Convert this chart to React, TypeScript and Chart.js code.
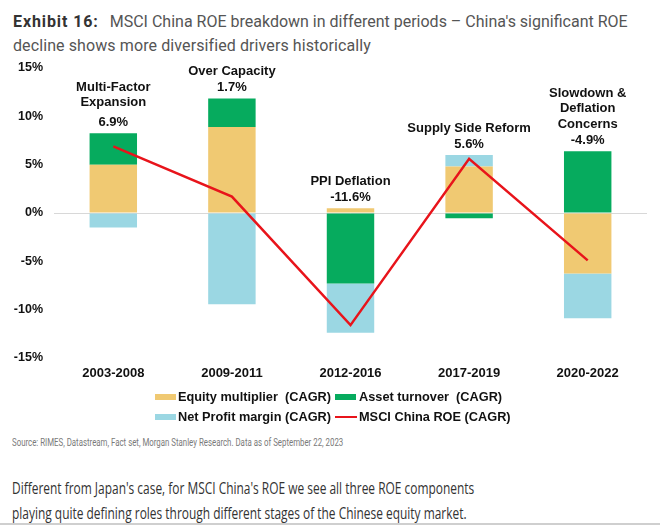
import React, { useEffect, useRef } from "react";
import { Chart, registerables } from "chart.js";

Chart.register(...registerables);

const categories = ["2003-2008", "2009-2011", "2012-2016", "2017-2019", "2020-2022"];
const equityMultiplier = [5.0, 8.9, 0.5, 4.8, -6.25];
const assetTurnover = [3.25, 2.95, -7.3, -0.55, 6.4];
const netProfitMargin = [-1.5, -9.45, -5.1, 1.2, -4.65];
const roe = [6.9, 1.7, -11.6, 5.6, -4.9];
const periodNames = [
  ["Multi-Factor", "Expansion"],
  ["Over Capacity"],
  ["PPI Deflation"],
  ["Supply Side Reform"],
  ["Slowdown &", "Deflation", "Concerns"],
];
const roeLabels = ["6.9%", "1.7%", "-11.6%", "5.6%", "-4.9%"];
const yTicks = [-15, -10, -5, 0, 5, 10, 15];

const COLORS = {
  equity: "#F0C972",
  asset: "#06AB5E",
  npm: "#9BD7E3",
  roe: "#E8141B",
};

const FONT = "'Liberation Sans', Arial, Helvetica, sans-serif";

const legendItems = [
  { label: "Equity multiplier  (CAGR)", color: COLORS.equity, kind: "bar", col: 0, row: 0 },
  { label: "Asset turnover  (CAGR)", color: COLORS.asset, kind: "bar", col: 1, row: 0 },
  { label: "Net Profit margin (CAGR)", color: COLORS.npm, kind: "bar", col: 0, row: 1 },
  { label: "MSCI China ROE (CAGR)", color: COLORS.roe, kind: "line", col: 1, row: 1 },
];

const annotationPlugin = {
  id: "periodAnnotations",
  afterDatasetsDraw(chart: any) {
    const { ctx } = chart;
    const x = chart.scales.x;
    const y = chart.scales.y;
    ctx.save();
    ctx.font = `bold 13px ${FONT}`;
    ctx.fillStyle = "#111";
    ctx.textAlign = "center";
    ctx.textBaseline = "middle";
    categories.forEach((_, i) => {
      const posSum =
        Math.max(0, equityMultiplier[i]) + Math.max(0, assetTurnover[i]) + Math.max(0, netProfitMargin[i]);
      const top = y.getPixelForValue(posSum);
      const cx = x.getPixelForValue(i);
      const valueY = top - 11;
      ctx.fillText(roeLabels[i], cx, valueY);
      const names = periodNames[i];
      const gap = names.length === 2 ? 19.5 : 16;
      names.forEach((n, k) => {
        const ly = valueY - gap - (names.length - 1 - k) * 15.3;
        ctx.fillText(n, cx, ly);
      });
    });
    ctx.restore();
  },
};

export default function App() {
  const ref = useRef<HTMLCanvasElement | null>(null);

  useEffect(() => {
    if (!ref.current) return;
    const chart = new Chart(ref.current, {
      type: "bar",
      data: {
        labels: categories,
        datasets: [
          {
            type: "line" as const,
            label: "MSCI China ROE (CAGR)",
            data: roe,
            borderColor: COLORS.roe,
            backgroundColor: COLORS.roe,
            borderWidth: 2.5,
            pointRadius: 0,
            tension: 0,
            order: 0,
            stack: "roe",
          },
          {
            label: "Equity multiplier  (CAGR)",
            data: equityMultiplier,
            backgroundColor: COLORS.equity,
            order: 1,
            stack: "a",
          },
          {
            label: "Asset turnover  (CAGR)",
            data: assetTurnover,
            backgroundColor: COLORS.asset,
            order: 1,
            stack: "a",
          },
          {
            label: "Net Profit margin (CAGR)",
            data: netProfitMargin,
            backgroundColor: COLORS.npm,
            order: 1,
            stack: "a",
          },
        ] as any,
      },
      options: {
        animation: false,
        responsive: false,
        maintainAspectRatio: false,
        layout: { padding: { top: 13, right: 13, left: 0, bottom: 0 } },
        datasets: { bar: { barPercentage: 0.4, categoryPercentage: 1 } } as any,
        plugins: { legend: { display: false }, tooltip: { enabled: false } },
        scales: {
          x: {
            stacked: true,
            grid: { display: false, drawTicks: false },
            border: { display: false },
            ticks: { color: "#111", font: { family: FONT, size: 13, weight: "bold" }, padding: 8 },
            afterFit(scale: any) {
              scale.height = 37;
            },
          },
          y: {
            stacked: true,
            min: -15,
            max: 15,
            afterBuildTicks(scale: any) {
              scale.ticks = yTicks.map((v) => ({ value: v }));
            },
            grid: {
              drawTicks: false,
              color: (c: any) => (c.tick && c.tick.value === 0 ? "#d8d8d8" : "rgba(0,0,0,0)"),
              lineWidth: 1,
            },
            border: { display: false },
            ticks: {
              color: "#111",
              font: { family: FONT, size: 12.5, weight: "bold" },
              padding: 11,
              callback: (v: any) => `${v}%`,
            },
            afterFit(scale: any) {
              scale.width = 54;
              scale.paddingTop = 0;
              scale.paddingBottom = 0;
            },
          },
        },
      },
      plugins: [annotationPlugin],
    });
    return () => chart.destroy();
  }, []);

  return (
    <div
      style={{
        position: "absolute",
        left: 0,
        top: 0,
        width: 660,
        height: 526,
        background: "#fff",
        overflow: "hidden",
      }}
    >
      <div
        style={{
          position: "absolute",
          left: 13,
          top: 10,
          fontFamily: "Roboto, 'Noto Sans', sans-serif",
          fontSize: 16,
          lineHeight: "24px",
          color: "#555",
          whiteSpace: "pre",
        }}
      >
        <div>
          <span style={{ fontWeight: "bold", color: "#333", letterSpacing: "0.9px" }}>Exhibit 16:</span>
          <span style={{ marginLeft: 11 }}>{"MSCI China ROE breakdown in different periods – China's significant ROE"}</span>
        </div>
        <div style={{ letterSpacing: "0.1px" }}>decline shows more diversified drivers historically</div>
      </div>
      <canvas
        ref={ref}
        width={660}
        height={340}
        style={{ position: "absolute", left: 0, top: 55, width: 660, height: 340 }}
      />
      {legendItems.map((it) => {
        const sx = it.col === 0 ? 155 : 335;
        const tx = it.col === 0 ? 178 : 359;
        const cy = it.row === 0 ? 396.5 : 417;
        return (
          <React.Fragment key={it.label}>
            {it.kind === "bar" ? (
              <div
                style={{ position: "absolute", left: sx, top: cy - 3, width: 21, height: 6, background: it.color }}
              />
            ) : (
              <div
                style={{ position: "absolute", left: sx, top: cy - 1, width: 22, height: 2, background: it.color }}
              />
            )}
            <div
              style={{
                position: "absolute",
                left: tx,
                top: cy - 9,
                height: 18,
                lineHeight: "18px",
                fontFamily: FONT,
                fontWeight: "bold",
                fontSize: 12.75,
                color: "#111",
                whiteSpace: "pre",
              }}
            >
              {it.label}
            </div>
          </React.Fragment>
        );
      })}
      <div
        style={{
          position: "absolute",
          left: 12,
          top: 435,
          lineHeight: "16px",
          fontFamily: "Roboto, sans-serif",
          fontSize: 10,
          color: "#7a7a7a",
          whiteSpace: "nowrap",
          transform: "scaleX(0.786)",
          transformOrigin: "0 0",
        }}
      >
        Source: RIMES, Datastream, Fact set, Morgan Stanley Research. Data as of September 22, 2023
      </div>
      <div
        style={{
          position: "absolute",
          left: 12,
          top: 475,
          lineHeight: "25px",
          fontFamily: "'Open Sans', sans-serif",
          fontSize: 16.4,
          color: "#333",
          whiteSpace: "nowrap",
          transform: "scaleX(0.728)",
          transformOrigin: "0 0",
        }}
      >
        <div>Different from Japan's case, for MSCI China's ROE we see all three ROE components</div>
        <div>playing quite defining roles through different stages of the Chinese equity market.</div>
      </div>
      <div style={{ position: "absolute", left: 0, top: 523, width: 660, height: 2, background: "#cfcfcf" }} />
    </div>
  );
}
